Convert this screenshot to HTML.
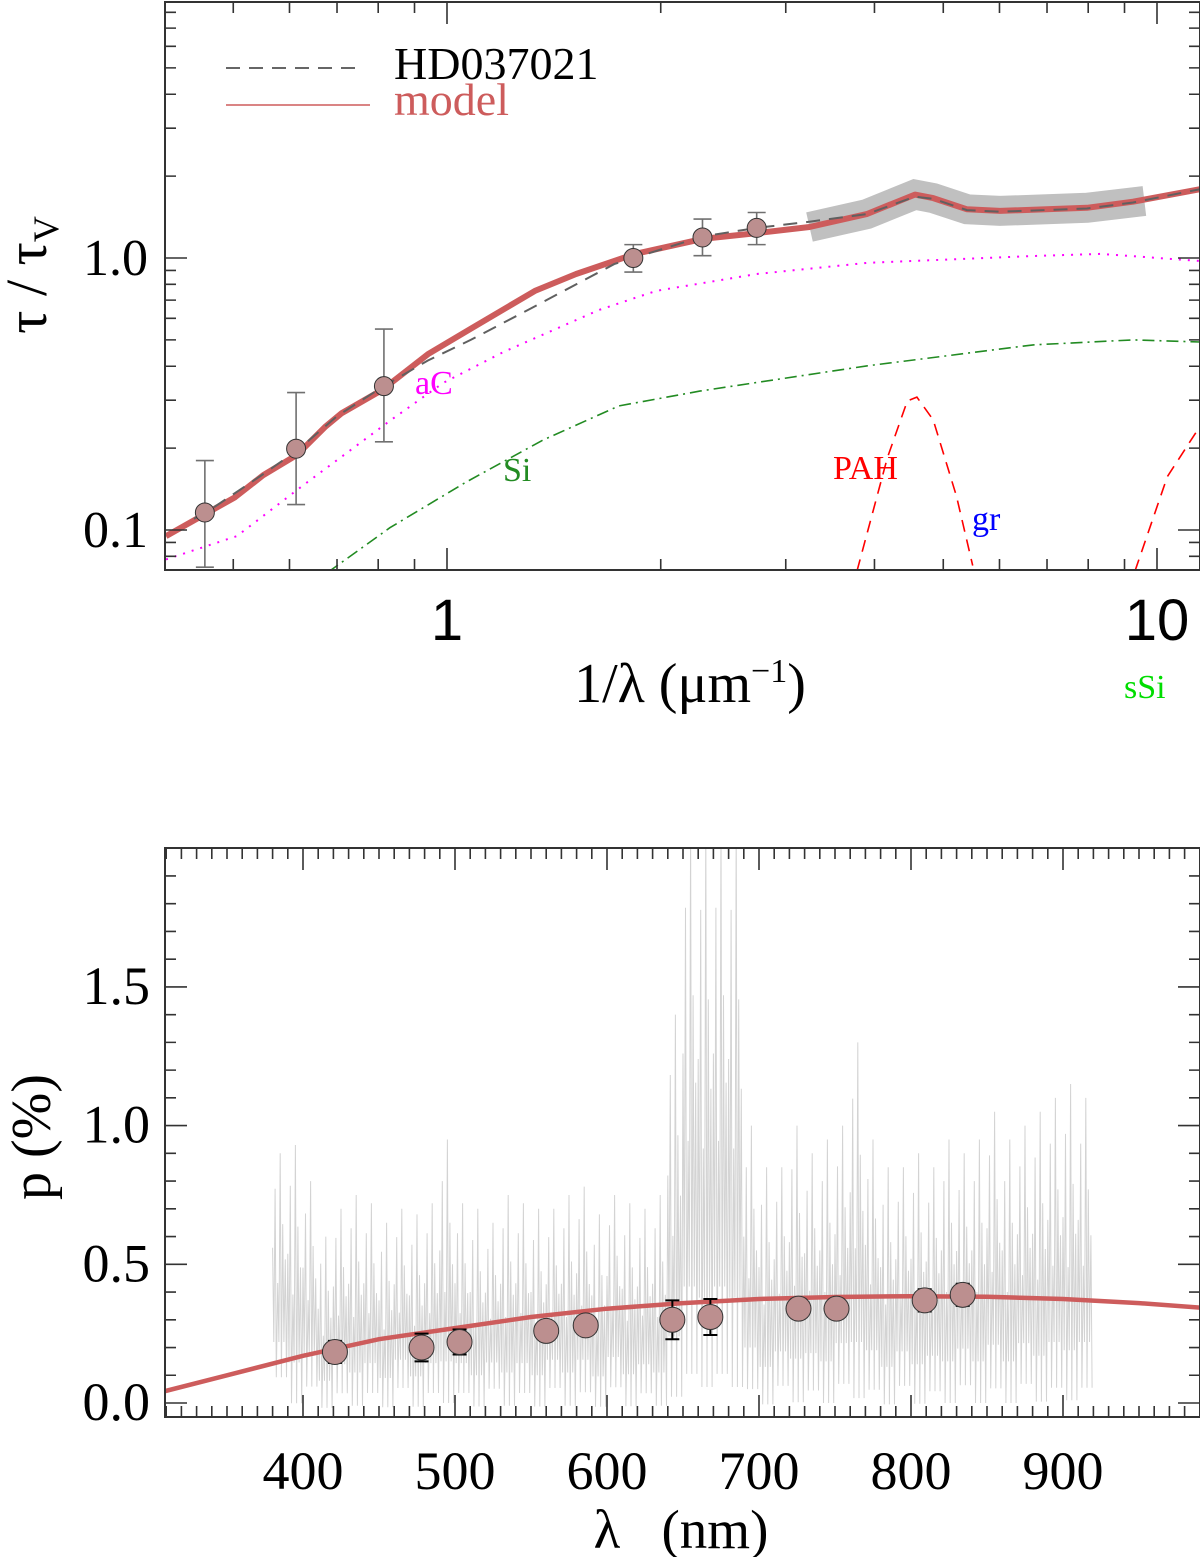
<!DOCTYPE html>
<html><head><meta charset="utf-8">
<style>
html,body{margin:0;padding:0;background:#fff;}
svg{display:block;}
text{font-family:"Liberation Serif",serif;}
</style></head>
<body>
<svg id="fig" width="1200" height="1557" viewBox="0 0 1200 1557" xmlns="http://www.w3.org/2000/svg">
<defs>
<clipPath id="clipTop"><rect x="165" y="2" width="1035" height="568"/></clipPath>
<clipPath id="clipBot"><rect x="165" y="848" width="1035" height="569"/></clipPath>
</defs>
<g id="topPanel"></g>
<g id="botPanel"></g>
</svg>
<script>
// ---------- TOP PANEL DATA ----------
const modelX = [0.402,0.503,0.551,0.615,0.673,0.711,0.810,0.940,1.078,1.33,1.52,1.84,2.29,2.73,3.24,3.90,4.56,4.84,5.40,6.01,7.97,9.25,11.5];
const modelY = [0.095,0.132,0.159,0.189,0.239,0.269,0.327,0.443,0.548,0.757,0.873,1.035,1.175,1.235,1.30,1.45,1.71,1.66,1.51,1.49,1.53,1.61,1.79];
const hdX = [0.44,0.46,0.55,0.615,0.70,0.81,0.94,1.08,1.30,1.72,2.29,2.73,3.24,3.90,4.56,4.84,5.40,6.01,7.97,9.25,11.5];
const hdY = [0.110,0.117,0.160,0.196,0.262,0.335,0.420,0.500,0.644,0.950,1.20,1.29,1.36,1.45,1.68,1.65,1.50,1.48,1.52,1.60,1.79];
const bandX = [3.24,3.90,4.56,4.84,5.40,6.01,7.97,9.6];
const bandY = [1.30,1.45,1.71,1.66,1.51,1.49,1.53,1.62];
const aCX = [0.402,0.506,0.625,0.831,0.987,1.20,1.64,1.97,2.73,3.90,6.69,8.34,11.5];
const aCY = [0.078,0.095,0.145,0.252,0.347,0.451,0.645,0.757,0.873,0.959,1.017,1.035,0.975];
const siX = [0.680,0.831,1.064,1.365,1.746,2.27,3.90,6.69,9.25,11.5];
const siY = [0.070,0.102,0.150,0.214,0.286,0.324,0.401,0.479,0.500,0.491];
const pahX = [3.78,4.17,4.45,4.59,4.84,5.22,5.50];
const pahY = [0.0707,0.184,0.298,0.308,0.254,0.133,0.074];
const pah2X = [9.31,10.34,11.5];
const pah2Y = [0.0707,0.157,0.241];
const obsX = [0.456,0.613,0.815,1.83,2.29,2.73];
const obsY = [0.116,0.199,0.338,1.00,1.19,1.29];
const obsLo = [0.073,0.124,0.211,0.888,1.02,1.12];
const obsHi = [0.180,0.320,0.548,1.12,1.39,1.47];
const topXTicksMajor = [1,10];
const topXTickLabels = ["1","10"];
const topYTicksMajor = [0.1,1.0];
const topYTickLabels = ["0.1","1.0"];

// ---------- BOTTOM PANEL DATA ----------
const curveNm = [300,350,400,450,500,550,600,650,700,750,800,850,900,950,1000];
const curveP = [0.03,0.10,0.17,0.23,0.27,0.31,0.34,0.36,0.375,0.382,0.385,0.383,0.375,0.36,0.34];
const ptNm = [421,478,503,560,586,643,668,726,751,809,834];
const ptP = [0.184,0.20,0.22,0.26,0.28,0.30,0.31,0.34,0.34,0.37,0.39];
const ptErr = [0.04,0.05,0.045,0.035,0.035,0.07,0.065,0.035,0.035,0.04,0.04];
const specBinNm = [380,390,400,410,420,430,440,450,460,470,480,490,500,510,520,530,540,550,560,570,580,590,600,610,620,630,640,650,660,670,680,690,700,710,720,730,740,750,760,770,780,790,800,810,820,830,840,850,860,870,880,890,900,910];
const specHi = [0.9,0.93,0.8,0.6,0.7,0.75,0.72,0.65,0.7,0.68,0.72,0.95,0.72,0.7,0.65,0.75,0.72,0.7,0.7,0.75,0.78,0.68,0.75,0.72,0.7,0.75,1.4,2.1,2.1,2.1,2.1,1.0,0.85,0.85,1.0,0.9,0.95,1.0,1.3,0.95,0.85,0.85,0.9,0.85,0.95,0.9,0.95,1.05,0.95,1.0,1.05,1.1,1.15,1.1];
const specLo = [0.05,-0.05,0.02,-0.05,0.0,-0.05,0.0,-0.05,0.02,-0.05,0.0,-0.05,0.0,-0.05,0.02,-0.05,0.0,-0.05,0.02,-0.05,0.0,-0.05,0.02,-0.05,0.0,-0.05,-0.05,0.0,-0.05,0.0,-0.05,0.0,-0.05,0.02,-0.05,0.0,-0.05,0.02,-0.05,0.0,-0.05,0.02,-0.05,0.0,-0.05,0.02,-0.05,0.0,-0.05,0.02,-0.05,0.0,-0.05,0.0];
const botXTicks = [400,500,600,700,800,900];
const botXTickLabels = ["400","500","600","700","800","900"];
const botYTicks = [0.0,0.5,1.0,1.5];
const botYTickLabels = ["0.0","0.5","1.0","1.5"];

const NS = "http://www.w3.org/2000/svg";
function mk(parent, tag, attrs, text){
  const el = document.createElementNS(NS, tag);
  for (const k in attrs) el.setAttribute(k, attrs[k]);
  if (text !== undefined) el.textContent = text;
  parent.appendChild(el);
  return el;
}
const TX0=165,TX1=1200,TY0=2,TY1=570;
function tx(v){ return 447 + 710*Math.log10(v); }
function ty(v){ return 258 - 272*Math.log10(v); }
const BX0=165,BX1=1200,BY0=848,BY1=1417;
function bx(v){ return 303 + (v-400)*1.52; }
function by(v){ return 1403 - v*277.4; }
function pathOf(xs, ys, fx, fy){
  return xs.map((x,i)=>(i?"L":"M")+fx(x).toFixed(1)+","+fy(ys[i]).toFixed(1)).join(" ");
}

// ===== TOP =====
const topG = document.getElementById('topPanel');
const tc = mk(topG,'g',{'clip-path':'url(#clipTop)'});



let e;
e = mk(tc,'path',{d:pathOf(bandX,bandY,tx,ty),fill:'none',stroke:'#c0c0c0','stroke-width':30});


e = mk(tc,'path',{d:pathOf(aCX,aCY,tx,ty),fill:'none',stroke:'#ff00ff','stroke-width':2,'stroke-dasharray':'2,7'});


e = mk(tc,'path',{d:pathOf(siX,siY,tx,ty),fill:'none',stroke:'#228b22','stroke-width':1.6,'stroke-dasharray':'12,5,2,5'});


e = mk(tc,'path',{d:pathOf(pahX,pahY,tx,ty),fill:'none',stroke:'#ff0000','stroke-width':1.6,'stroke-dasharray':'12,8'});


e = mk(tc,'path',{d:pathOf(pah2X,pah2Y,tx,ty),fill:'none',stroke:'#ff0000','stroke-width':1.6,'stroke-dasharray':'12,8'});


e = mk(tc,'path',{d:pathOf(modelX,modelY,tx,ty),fill:'none',stroke:'#cd5c5c','stroke-width':6,'stroke-linejoin':'round'});


e = mk(tc,'path',{d:pathOf(hdX,hdY,tx,ty),fill:'none',stroke:'#606060','stroke-width':2,'stroke-dasharray':'14,9'});


for (let i=0;i<obsX.length;i++){
  const g = mk(tc,'g',{});
  
  
  const X=tx(obsX[i]);
  mk(g,'path',{d:`M${X},${ty(obsLo[i])}V${ty(obsHi[i])}M${X-9},${ty(obsLo[i])}H${X+9}M${X-9},${ty(obsHi[i])}H${X+9}`,stroke:'#707070','stroke-width':1.6,fill:'none'});
  mk(g,'circle',{cx:X,cy:ty(obsY[i]),r:9.5,fill:'#bc8f8f',stroke:'#333','stroke-width':1});
}
const tf = mk(topG,'g',{});


mk(tf,'rect',{x:TX0,y:TY0,width:TX1-TX0,height:TY1-TY0,fill:'none',stroke:'#333','stroke-width':2});
let td="";
for (let d=-1; d<=1; d++){
  for (let m=1; m<10; m++){
    const v=m*Math.pow(10,d), X=tx(v);
    if (X<TX0+1||X>TX1-1) continue;
    const L = (m===1)?22:11;
    td+=`M${X},${TY1}v${-L}M${X},${TY0}v${L}`;
  }
}
for (let d=-2; d<=1; d++){
  for (let m=1; m<10; m++){
    const v=m*Math.pow(10,d), Y=ty(v);
    if (Y<TY0+1||Y>TY1-1) continue;
    const L = (m===1)?22:11;
    td+=`M${TX0},${Y}h${L}M${TX1},${Y}h${-L}`;
  }
}
mk(tf,'path',{d:td,stroke:'#333','stroke-width':1.6,fill:'none'});
topXTicksMajor.forEach((v,i)=>{
  const t=mk(tf,'text',{x:tx(v),y:640,'text-anchor':'middle','font-size':58,style:'font-family:"Liberation Sans",sans-serif'},topXTickLabels[i]);
  
  
});
topYTicksMajor.forEach((v,i)=>{
  const t=mk(tf,'text',{x:148,y:ty(v)+17,'text-anchor':'end','font-size':52},topYTickLabels[i]);
  
  
});
e=mk(topG,'text',{x:690,y:702,'text-anchor':'middle','font-size':56});
mk(e,'tspan',{},'1/λ (μm');
mk(e,'tspan',{dy:-20,'font-size':34},'−1');
mk(e,'tspan',{dy:20},')');


e=mk(topG,'text',{transform:'translate(46,275) rotate(-90)','text-anchor':'middle','font-size':58});
mk(e,'tspan',{},'τ / τ');
mk(e,'tspan',{dy:12,'font-size':36},'V');


const lg=mk(topG,'g',{});


mk(lg,'line',{x1:226,y1:68,x2:356,y2:68,stroke:'#333','stroke-width':1.6,'stroke-dasharray':'14,9'});
e=mk(lg,'text',{x:394,y:79,'font-size':46},'HD037021');


mk(lg,'line',{x1:226,y1:105,x2:370,y2:105,stroke:'#cd5c5c','stroke-width':1.6});
e=mk(lg,'text',{x:394,y:115,'font-size':46,fill:'#cd5c5c'},'model');


[['aC',415,394,'#ff00ff'],['Si',503,481,'#228b22'],['PAH',833,479,'#ff0000'],['gr',972,530,'#0000ff'],['sSi',1124,698,'#00dd00']].forEach(l=>{
  const t=mk(topG,'text',{x:l[1],y:l[2],'font-size':34,fill:l[3]},l[0]);
  
  
});

// ===== BOTTOM =====
const botG=document.getElementById('botPanel');
const bc=mk(botG,'g',{'clip-path':'url(#clipBot)'});


let sd="";
const subFrac=[0.6,0.85,0.45,1.0,0.7,0.55];
for (let i=0;i<specBinNm.length;i++){
  const n0=specBinNm[i];
  for (let k=0;k<6;k++){
    const nm=n0+k*10/6;
    const hi=specLo[i]+(specHi[i]-specLo[i])*subFrac[k];
    const lo=specLo[i]+(specHi[i]-specLo[i])*(k%2?0.05:0.2);
    sd+=(sd?"L":"M")+bx(nm).toFixed(1)+","+by(hi).toFixed(1)+"L"+bx(nm+0.8).toFixed(1)+","+by(lo).toFixed(1);
  }
}
e=mk(bc,'path',{d:sd,fill:'none',stroke:'#d3d3d3','stroke-width':1});


e=mk(bc,'path',{d:pathOf(curveNm,curveP,bx,by),fill:'none',stroke:'#cd5c5c','stroke-width':4.5});


for (let i=0;i<ptNm.length;i++){
  const g=mk(bc,'g',{});
  
  
  const X=bx(ptNm[i]), lo=by(ptP[i]-ptErr[i]), hi=by(ptP[i]+ptErr[i]);
  mk(g,'path',{d:`M${X},${lo}V${hi}M${X-7},${lo}H${X+7}M${X-7},${hi}H${X+7}`,stroke:'#000','stroke-width':2,fill:'none'});
  mk(g,'circle',{cx:X,cy:by(ptP[i]),r:12.5,fill:'#bc8f8f',stroke:'#333','stroke-width':1});
}
const bf=mk(botG,'g',{});


mk(bf,'rect',{x:BX0,y:BY0,width:BX1-BX0,height:BY1-BY0,fill:'none',stroke:'#333','stroke-width':2});
let bd="";
for (let v=310; v<=990; v+=10){
  const X=bx(v), L=(v%100===0)?22:11;
  bd+=`M${X},${BY1}v${-L}M${X},${BY0}v${L}`;
}
for (let k=0; k<=19; k++){
  const v=k/10, Y=by(v);
  if (Y<BY0+1) continue;
  const L=(k%5===0)?22:11;
  bd+=`M${BX0},${Y}h${L}M${BX1},${Y}h${-L}`;
}
mk(bf,'path',{d:bd,stroke:'#333','stroke-width':1.6,fill:'none'});
botXTicks.forEach((v,i)=>{
  const t=mk(bf,'text',{x:bx(v),y:1489,'text-anchor':'middle','font-size':54},botXTickLabels[i]);
  
  
});
botYTicks.forEach((v,i)=>{
  const t=mk(bf,'text',{x:150,y:by(v)+17,'text-anchor':'end','font-size':54},botYTickLabels[i]);
  
  
});
e=mk(botG,'text',{x:681,y:1548,'text-anchor':'middle','font-size':55,style:'white-space:pre'},'λ   (nm)');


e=mk(botG,'text',{transform:'translate(50,1137) rotate(-90)','text-anchor':'middle','font-size':56},'p (%)');


</script>
</body></html>
